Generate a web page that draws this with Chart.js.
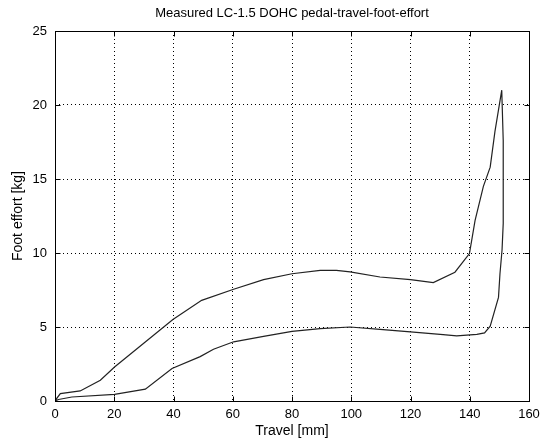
<!DOCTYPE html>
<html>
<head>
<meta charset="utf-8">
<script src="https://cdn.jsdelivr.net/npm/chart.js@4/dist/chart.umd.min.js"></script>
<style>
  html, body { margin: 0; padding: 0; background: #fff; }
  canvas { display: block; background: #fff; }
</style>
</head>
<body>
<canvas id="c" width="550" height="442"></canvas>
<script>
// ---- Data ----
const chartTitle = 'Measured LC-1.5 DOHC pedal-travel-foot-effort';
const xTitle = 'Travel [mm]';
const yTitle = 'Foot effort [kg]';
const xTicks = [0, 20, 40, 60, 80, 100, 120, 140, 160];
const yTicks = [0, 5, 10, 15, 20, 25];

// loop path: loading branch (upper) then unloading branch (lower)
const travel = [0, 0.3, 1.8, 8.5, 15.3, 20.1, 39.8, 49.5, 60.3, 70.4, 80, 89.5, 95, 99.6, 109.7, 120, 127.7, 135, 139.9, 141.8, 144.6, 146.9, 148.5, 150.8,
                151.3, 151.3, 150.9, 150.2, 149.7, 146.9, 145, 142.4, 135.6, 131, 121, 109.7, 99.6, 89.5, 80, 70.4, 60.3, 53.5, 49, 39.5, 30.5, 20.1, 5.7, 1.2, 0];
const effort = [0, 0.1, 0.5, 0.68, 1.4, 2.3, 5.5, 6.8, 7.55, 8.2, 8.6, 8.83, 8.83, 8.72, 8.38, 8.2, 8.0, 8.7, 9.96, 12.2, 14.5, 15.8, 18.2, 21.0,
                17.6, 12.0, 10.2, 8.6, 7.0, 5.05, 4.6, 4.5, 4.4, 4.48, 4.66, 4.84, 5.0, 4.89, 4.71, 4.37, 4.0, 3.5, 3.0, 2.2, 0.8, 0.45, 0.27, 0.1, 0];

const points = travel.map((x, i) => ({ x: x, y: effort[i] }));
const FONT = "'Liberation Sans', Arial, Helvetica, sans-serif";

const boxPlugin = {
  id: 'boxPlugin',
  afterDraw(chart) {
    const { ctx, chartArea: a, scales } = chart;
    ctx.save();
    ctx.strokeStyle = '#000';
    ctx.lineWidth = 1;
    ctx.setLineDash([]);
    const L = Math.round(a.left) + 0.5, R = Math.round(a.right) + 0.5;
    const T = Math.round(a.top) + 0.5, B = Math.round(a.bottom) + 0.5;
    ctx.strokeRect(L, T, R - L, B - T);
    const tl = 5;
    ctx.beginPath();
    xTicks.forEach(v => {
      const px = Math.round(scales.x.getPixelForValue(v)) + 0.5;
      ctx.moveTo(px, B); ctx.lineTo(px, B - tl);
      ctx.moveTo(px, T); ctx.lineTo(px, T + tl);
    });
    yTicks.forEach(v => {
      const py = Math.round(scales.y.getPixelForValue(v)) + 0.5;
      ctx.moveTo(L, py); ctx.lineTo(L + tl, py);
      ctx.moveTo(R, py); ctx.lineTo(R - tl, py);
    });
    ctx.stroke();
    // title centered over the axes
    ctx.fillStyle = '#000';
    ctx.font = '13px ' + FONT;
    ctx.textAlign = 'center';
    ctx.textBaseline = 'middle';
    ctx.fillText(chartTitle, (a.left + a.right) / 2, 13);
    ctx.restore();
  }
};

const edgeTransparent = (lo, hi) => (c) =>
  (c.tick && (c.tick.value === lo || c.tick.value === hi)) ? 'rgba(0,0,0,0)' : '#000';

new Chart(document.getElementById('c'), {
  type: 'scatter',
  data: {
    datasets: [{
      data: points,
      showLine: true,
      borderColor: '#222',
      borderWidth: 1.2,
      pointRadius: 0,
      pointHoverRadius: 0,
      tension: 0,
      fill: false
    }]
  },
  options: {
    responsive: false,
    animation: false,
    events: [],
    layout: { padding: { top: 31, right: 21, left: 0, bottom: 0 } },
    plugins: { legend: { display: false }, title: { display: false }, tooltip: { enabled: false } },
    scales: {
      x: {
        type: 'linear', min: 0, max: 160,
        afterBuildTicks: (s) => { s.ticks = xTicks.map(v => ({ value: v })); },
        afterFit: (s) => { s.height = 41; },
        ticks: { color: '#000', font: { family: FONT, size: 13 }, padding: 6, maxRotation: 0 },
        grid: { color: edgeTransparent(0, 160), lineWidth: 1, drawTicks: false },
        border: { display: false, dash: [1, 3] },
        title: { display: true, text: xTitle, color: '#000', font: { family: FONT, size: 14 }, padding: { top: 0, bottom: 2 } }
      },
      y: {
        type: 'linear', min: 0, max: 25,
        afterBuildTicks: (s) => { s.ticks = yTicks.map(v => ({ value: v })); },
        afterFit: (s) => { s.width = 55; },
        ticks: { color: '#000', font: { family: FONT, size: 13 }, padding: 8 },
        grid: { color: edgeTransparent(0, 25), lineWidth: 1, drawTicks: false },
        border: { display: false, dash: [1, 3] },
        title: { display: true, text: yTitle, color: '#000', font: { family: FONT, size: 14 }, padding: { top: 10, bottom: 0 } }
      }
    }
  },
  plugins: [boxPlugin]
});
</script>
</body>
</html>
